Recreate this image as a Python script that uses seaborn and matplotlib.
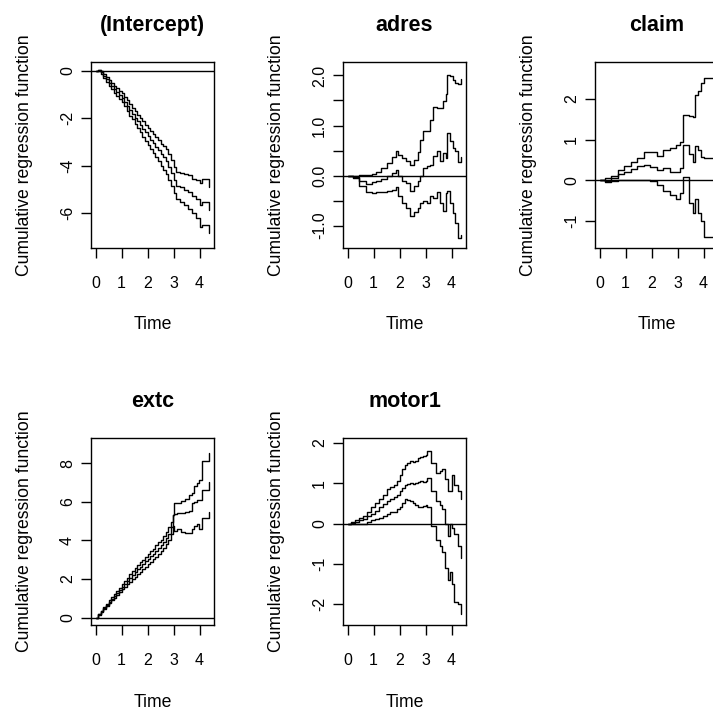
import numpy as np
import pandas as pd
import matplotlib
matplotlib.use("Agg")
import matplotlib.pyplot as plt
import seaborn as sns

# ── Style ────────────────────────────────────────────────────────────────
sns.set_theme(style="ticks")
plt.rcParams["font.family"] = ["Liberation Sans", "DejaVu Sans"]
plt.rcParams["axes.unicode_minus"] = False
plt.rcParams["axes.edgecolor"] = "black"
plt.rcParams["axes.linewidth"] = 1.0
plt.rcParams["xtick.color"] = "black"
plt.rcParams["ytick.color"] = "black"
plt.rcParams["text.color"] = "black"
plt.rcParams["axes.labelcolor"] = "black"

# ── Data ─────────────────────────────────────────────────────────────────
intercept_t = [0, 0.1, 0.2, 0.3, 0.4, 0.5, 0.6, 0.7, 0.8, 0.9, 1.0, 1.1, 1.2, 1.3,
               1.4, 1.5, 1.6, 1.7, 1.8, 1.9, 2.0, 2.1, 2.2, 2.3, 2.4, 2.5, 2.6,
               2.7, 2.8, 2.9, 3.0, 3.1, 3.25, 3.4, 3.55, 3.7, 3.85, 4.0, 4.08, 4.38]
intercept_hi = [0, 0.06, 0.02, -0.12, -0.25, -0.38, -0.52, -0.63, -0.72, -0.83,
                -0.95, -1.08, -1.22, -1.38, -1.55, -1.7, -1.85, -2.0, -2.13, -2.27,
                -2.4, -2.53, -2.67, -2.8, -2.93, -3.07, -3.18, -3.32, -3.5, -3.75,
                -4.05, -4.28, -4.3, -4.38, -4.42, -4.55, -4.62, -4.72, -4.55, -4.9]
intercept_est = [0, 0.03, -0.05, -0.2, -0.35, -0.5, -0.65, -0.78, -0.9, -1.02,
                 -1.15, -1.3, -1.47, -1.63, -1.8, -1.97, -2.13, -2.3, -2.45, -2.6,
                 -2.75, -2.9, -3.05, -3.2, -3.35, -3.5, -3.65, -3.82, -4.05, -4.3,
                 -4.6, -4.85, -4.92, -5.02, -5.12, -5.28, -5.42, -5.65, -5.55, -5.9]
intercept_lo = [0, 0.0, -0.12, -0.28, -0.45, -0.62, -0.77, -0.92, -1.05, -1.18,
                -1.33, -1.5, -1.7, -1.9, -2.05, -2.25, -2.42, -2.6, -2.78, -2.95,
                -3.12, -3.3, -3.47, -3.65, -3.82, -4.0, -4.18, -4.38, -4.6, -4.88,
                -5.15, -5.42, -5.55, -5.68, -5.82, -6.0, -6.2, -6.6, -6.5, -6.87]

adres_t = [0, 0.2, 0.45, 0.7, 0.95, 1.1, 1.3, 1.5, 1.7, 1.85, 1.95, 2.1, 2.25, 2.4,
           2.55, 2.7, 2.8, 2.92, 3.05, 3.18, 3.3, 3.43, 3.56, 3.68, 3.77, 3.83,
           3.95, 4.06, 4.15, 4.25, 4.38]
adres_hi = [0, 0.0, 0.02, 0.02, 0.04, 0.08, 0.15, 0.25, 0.38, 0.5, 0.42, 0.35, 0.3,
            0.22, 0.32, 0.48, 0.72, 0.9, 0.9, 1.1, 1.38, 1.35, 1.35, 1.48, 1.62,
            2.0, 1.98, 1.9, 1.85, 1.83, 1.92]
adres_est = [0, -0.03, -0.1, -0.17, -0.13, -0.1, -0.06, 0.0, 0.06, 0.12, 0.0, -0.1,
             -0.15, -0.3, -0.2, -0.1, 0.0, 0.15, 0.2, 0.22, 0.4, 0.5, 0.3, 0.45,
             0.35, 0.85, 0.7, 0.55, 0.5, 0.27, 0.37]
adres_lo = [0, -0.05, -0.2, -0.32, -0.35, -0.33, -0.32, -0.31, -0.28, -0.22, -0.4,
            -0.55, -0.65, -0.8, -0.72, -0.65, -0.55, -0.5, -0.55, -0.4, -0.45,
            -0.33, -0.55, -0.7, -0.35, -0.3, -0.55, -0.75, -0.95, -1.25, -1.18]

claim_t = [0, 0.2, 0.45, 0.7, 0.95, 1.2, 1.45, 1.7, 1.95, 2.2, 2.45, 2.7, 2.95, 3.1,
           3.2, 3.45, 3.6, 3.68, 3.8, 3.9, 4.0, 4.38]
claim_hi = [0, 0.05, 0.1, 0.25, 0.35, 0.45, 0.55, 0.7, 0.7, 0.6, 0.75, 0.8, 0.88,
            0.95, 1.6, 1.58, 1.55, 2.1, 2.2, 2.4, 2.52, 2.52]
claim_est = [0, -0.02, 0.05, 0.15, 0.2, 0.28, 0.35, 0.38, 0.32, 0.25, 0.3, 0.2, 0.2,
             0.3, 0.88, 0.65, 0.45, 0.85, 0.75, 0.58, 0.55, 0.55]
claim_lo = [0, -0.03, -0.02, 0.0, 0.0, 0.0, 0.0, 0.0, -0.02, -0.12, -0.25, -0.35,
            -0.45, -0.3, 0.08, -0.55, -0.8, -0.45, -0.8, -1.0, -1.4, -1.4]

extc_t = [0, 0.1, 0.2, 0.3, 0.4, 0.5, 0.6, 0.7, 0.8, 0.9, 1.0, 1.1, 1.2, 1.3, 1.4,
          1.5, 1.6, 1.7, 1.8, 1.9, 2.0, 2.1, 2.2, 2.3, 2.4, 2.5, 2.6, 2.7, 2.8,
          2.9, 2.97, 3.02, 3.15, 3.3, 3.45, 3.6, 3.7, 3.8, 3.9, 3.97, 4.1, 4.38]
extc_hi = [0, 0.18, 0.36, 0.54, 0.72, 0.9, 1.07, 1.23, 1.4, 1.55, 1.72, 1.9, 2.08,
           2.25, 2.42, 2.59, 2.73, 2.87, 3.01, 3.15, 3.28, 3.43, 3.58, 3.74, 3.9,
           4.05, 4.25, 4.45, 4.7, 4.95, 5.34, 5.95, 5.95, 6.05, 6.15, 6.35, 6.47,
           6.8, 7.0, 7.15, 8.1, 8.53]
extc_est = [0, 0.17, 0.34, 0.5, 0.66, 0.82, 0.97, 1.12, 1.27, 1.43, 1.6, 1.75, 1.9,
            2.05, 2.2, 2.35, 2.5, 2.64, 2.78, 2.92, 3.05, 3.18, 3.32, 3.46, 3.6,
            3.74, 3.92, 4.12, 4.34, 4.7, 5.3, 5.35, 5.43, 5.43, 5.5, 5.55, 5.95,
            6.0, 6.1, 6.1, 6.64, 7.05]
extc_lo = [0, 0.16, 0.31, 0.46, 0.61, 0.76, 0.9, 1.04, 1.18, 1.32, 1.46, 1.59, 1.72,
           1.85, 1.98, 2.11, 2.24, 2.37, 2.5, 2.63, 2.76, 2.89, 3.02, 3.15, 3.3,
           3.45, 3.62, 3.82, 4.05, 4.35, 4.74, 4.5, 4.57, 4.43, 4.4, 4.4, 4.57,
           4.75, 4.85, 4.62, 5.17, 5.5]

motor1_t = [0, 0.15, 0.3, 0.45, 0.6, 0.75, 0.9, 1.05, 1.2, 1.35, 1.5, 1.65, 1.8,
            1.9, 2.0, 2.1, 2.2, 2.3, 2.4, 2.5, 2.6, 2.7, 2.8, 2.9, 3.0, 3.07,
            3.2, 3.4, 3.55, 3.65, 3.75, 3.85, 3.95, 4.0, 4.1, 4.25, 4.38]
motor1_hi = [0, 0.04, 0.1, 0.15, 0.2, 0.3, 0.4, 0.5, 0.6, 0.72, 0.85, 0.9, 0.95,
             1.05, 1.2, 1.35, 1.45, 1.5, 1.55, 1.52, 1.55, 1.62, 1.65, 1.68, 1.7,
             1.8, 1.5, 1.25, 1.3, 1.35, 1.1, 0.8, 0.8, 1.2, 0.95, 0.8, 0.6]
motor1_est = [0, 0.02, 0.05, 0.08, 0.12, 0.18, 0.25, 0.32, 0.4, 0.48, 0.55, 0.6,
              0.65, 0.72, 0.8, 0.88, 0.95, 0.98, 1.0, 0.98, 1.0, 1.03, 1.05, 1.04,
              1.05, 1.12, 0.8, 0.55, 0.45, 0.35, 0.0, -0.3, 0.0, -0.1, -0.25,
              -0.55, -0.85]
motor1_lo = [0, -0.01, -0.02, -0.01, 0.0, 0.04, 0.08, 0.12, 0.15, 0.2, 0.25, 0.28,
             0.3, 0.35, 0.4, 0.5, 0.6, 0.58, 0.55, 0.5, 0.45, 0.42, 0.4, 0.43,
             0.45, 0.4, -0.05, -0.4, -0.55, -0.7, -1.1, -1.4, -1.2, -1.5, -1.95,
             -2.0, -2.25]

x_ticks = [0, 1, 2, 3, 4]
intercept_yticks = [-6, -4, -2, 0]
adres_yticks = [-1.0, -0.5, 0.0, 0.5, 1.0, 1.5, 2.0]
adres_ylabels = ["-1.0", "", "0.0", "", "1.0", "", "2.0"]
claim_yticks = [-1, 0, 1, 2]
extc_yticks = [0, 2, 4, 6, 8]
motor1_yticks = [-2, -1, 0, 1, 2]

# ── Layout (pixel boxes of the plot regions) ─────────────────────────────
W, H = 713, 711
fig = plt.figure(figsize=(W / 100, H / 100), dpi=100)
fig.patch.set_facecolor("white")

panels = [
    ("(Intercept)", intercept_t, intercept_lo, intercept_est, intercept_hi,
     (-7.49, 0.38), intercept_yticks, None, 91, 62, 186),
    ("adres", adres_t, adres_lo, adres_est, adres_hi,
     (-1.45, 2.27), adres_yticks, adres_ylabels, 343, 62, 186),
    ("claim", claim_t, claim_lo, claim_est, claim_hi,
     (-1.66, 2.91), claim_yticks, None, 595, 62, 186),
    ("extc", extc_t, extc_lo, extc_est, extc_hi,
     (-0.38, 9.31), extc_yticks, None, 91, 438, 187),
    ("motor1", motor1_t, motor1_lo, motor1_est, motor1_hi,
     (-2.51, 2.12), motor1_yticks, None, 343, 438, 187),
]

for name, t, lo, est, hi, ylim, yticks, ylabels, px, py, ph in panels:
    pw = 123
    ax = fig.add_axes([px / W, 1 - (py + ph) / H, pw / W, ph / H])
    ax.set_facecolor("white")

    df = pd.DataFrame({
        "time": np.tile(t, 3),
        "value": np.concatenate([lo, est, hi]),
        "curve": np.repeat(["lo", "est", "hi"], len(t)),
    })
    sns.lineplot(data=df, x="time", y="value", units="curve", estimator=None,
                 color="black", lw=1.0, drawstyle="steps-post", ax=ax,
                 legend=False)
    ax.axhline(0, color="black", lw=1.0)

    ax.set_xlim(-0.175, 4.555)
    ax.set_ylim(*ylim)
    ax.set_xticks(x_ticks)
    ax.set_xticklabels([str(v) for v in x_ticks])
    ax.set_yticks(yticks)
    if ylabels is None:
        ylabels = [f"{v:g}" for v in yticks]
    ax.set_yticklabels(ylabels, rotation=90, va="center")

    ax.tick_params(axis="both", direction="out", length=7.5, width=1.0,
                   labelsize=11.5, colors="black")
    ax.tick_params(axis="x", pad=13)
    ax.tick_params(axis="y", pad=4)
    for s in ax.spines.values():
        s.set_visible(True)
        s.set_color("black")
        s.set_linewidth(1.0)

    ax.set_title(name, fontsize=15.5, fontweight="bold", pad=22)
    ax.set_xlabel("Time", fontsize=12.7)
    ax.xaxis.set_label_coords(0.5, -0.368)
    ax.set_ylabel("Cumulative regression function", fontsize=12.7)
    ax.yaxis.set_label_coords(-0.47, 0.5)

fig.savefig("out.png", dpi=100, facecolor="white")
